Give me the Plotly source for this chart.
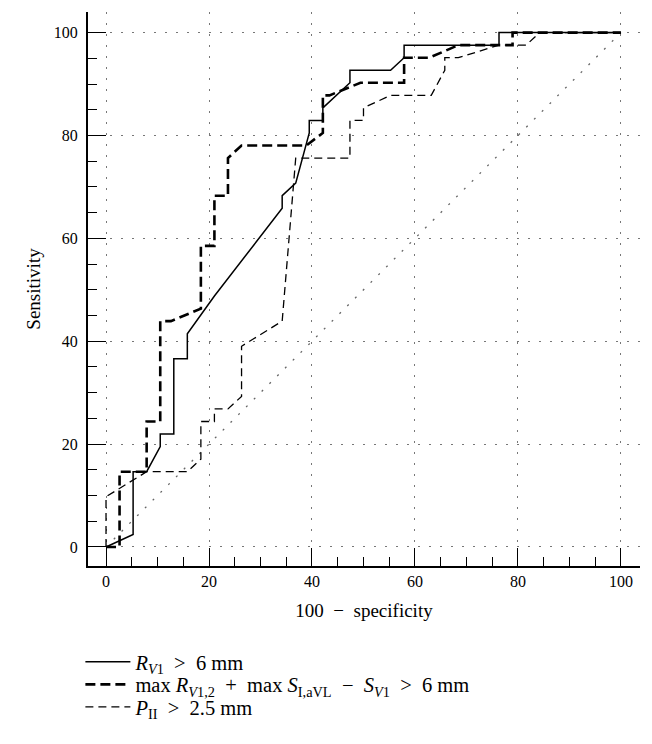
import plotly.graph_objects as go

# 100 - specificity (x) and sensitivity (y) for each ROC curve
rv1_x = [0, 5.26, 5.26, 7.89, 10.53, 10.53, 13.16, 13.16, 15.79, 15.79, 21.05, 34.21, 34.21,
         36.84, 39.47, 39.47, 42.11, 42.11, 47.37, 47.37, 55.26, 57.89, 57.89, 76.32, 76.32, 100]
rv1_y = [0, 2.44, 14.63, 14.63, 19.51, 21.95, 21.95, 36.59, 36.59, 41.46, 48.78, 65.85, 68.29,
         70.73, 80.49, 82.93, 82.93, 85.37, 90.24, 92.68, 92.68, 95.12, 97.56, 97.56, 100, 100]

maxr_x = [0, 2.63, 2.63, 7.89, 7.89, 10.53, 10.53, 12.6, 18.42, 18.42, 21.05, 21.05, 23.68,
          23.68, 26.32, 38.9, 42.11, 42.11, 43.4, 49.4, 57.89, 57.89, 62.8, 68.42, 78.95, 78.95, 100]
maxr_y = [0, 0, 14.63, 14.63, 24.39, 24.39, 43.90, 43.90, 46.34, 58.54, 58.54, 68.29, 68.29,
          75.61, 78.05, 78.05, 80.49, 87.80, 87.80, 90.24, 90.24, 95.12, 95.12, 97.56, 97.56, 100, 100]

pii_x = [0, 0, 7.89, 15.79, 18.42, 18.42, 21.05, 21.05, 23.68, 26.32, 26.32, 34.21, 36.84,
         47.37, 47.37, 50.0, 50.0, 55.26, 63.16, 65.79, 65.79, 68.42, 76.32, 81.58, 84.21, 100]
pii_y = [0, 9.76, 14.63, 14.63, 17.07, 24.39, 24.39, 26.83, 26.83, 29.27, 39.02, 43.90, 75.61,
         75.61, 82.93, 82.93, 85.37, 87.80, 87.80, 92.68, 95.12, 95.12, 97.56, 97.56, 100, 100]

ref_x = [0, 100]
ref_y = [0, 100]

SP = "\u2002"  # en space, like the math spacing of the original
names = [
    f"<i>R</i><sub><i>V</i>1</sub>{SP}&gt;{SP}6 mm",
    f"max <i>R</i><sub><i>V</i>1,2</sub>{SP}+{SP}max <i>S</i><sub>I,aVL</sub>{SP}−{SP}"
    f"<i>S</i><sub><i>V</i>1</sub>{SP}&gt;{SP}6 mm",
    f"<i>P</i><sub>II</sub>{SP}&gt;{SP}2.5 mm",
]

FONT = "Liberation Serif, Times New Roman, serif"
DOT = "2px,9px"

fig = go.Figure()
fig.add_trace(go.Scatter(x=ref_x, y=ref_y, mode="lines", showlegend=False,
                         line=dict(color="#666", width=1.3, dash=DOT), hoverinfo="skip"))
fig.add_trace(go.Scatter(x=rv1_x, y=rv1_y, mode="lines", name=names[0], legend="legend",
                         line=dict(color="black", width=1.5)))
fig.add_trace(go.Scatter(x=maxr_x, y=maxr_y, mode="lines", name=names[1], legend="legend2",
                         line=dict(color="black", width=2.6, dash="10px,5px")))
fig.add_trace(go.Scatter(x=pii_x, y=pii_y, mode="lines", name=names[2], legend="legend3",
                         line=dict(color="black", width=1.3, dash="8px,5px")))

axis_common = dict(
    showline=True, linecolor="black", linewidth=1.5, mirror=False,
    ticks="inside", ticklen=18, tickwidth=1.3, tickcolor="black",
    tick0=0, dtick=20, zeroline=False, automargin=False,
    showgrid=True, gridcolor="#777", gridwidth=1.3, griddash=DOT,
    tickfont=dict(family=FONT, size=16, color="black"),
    minor=dict(ticks="inside", ticklen=9, tickwidth=1.3, tickcolor="black",
               dtick=5, tick0=0, showgrid=False),
)

# page body adds 8px offset; plot area on screen: x 88..640, y 12..566
def leg(ypix):
    return dict(x=-0.0138, y=(566 - ypix) / 554, xanchor="left", yanchor="middle",
                font=dict(family=FONT, size=20.5, color="black"),
                bgcolor="rgba(0,0,0,0)", itemwidth=45, borderwidth=0)

fig.update_layout(
    width=652, height=744,
    margin=dict(l=80, r=20, t=4, b=186, autoexpand=False),
    paper_bgcolor="white", plot_bgcolor="white",
    font=dict(family=FONT, size=16, color="black"),
    xaxis=dict(range=[-3.5, 103.7],
               title=dict(text=f"100{SP}−{SP}specificity", font=dict(family=FONT, size=19), standoff=15),
               **axis_common),
    yaxis=dict(range=[-3.7, 104], ticksuffix="\u2004",
               title=dict(text="Sensitivity", font=dict(family=FONT, size=19), standoff=8),
               **axis_common),
    legend=leg(662),
    legend2=leg(684.5),
    legend3=leg(707),
)

fig.write_html("out.html")
